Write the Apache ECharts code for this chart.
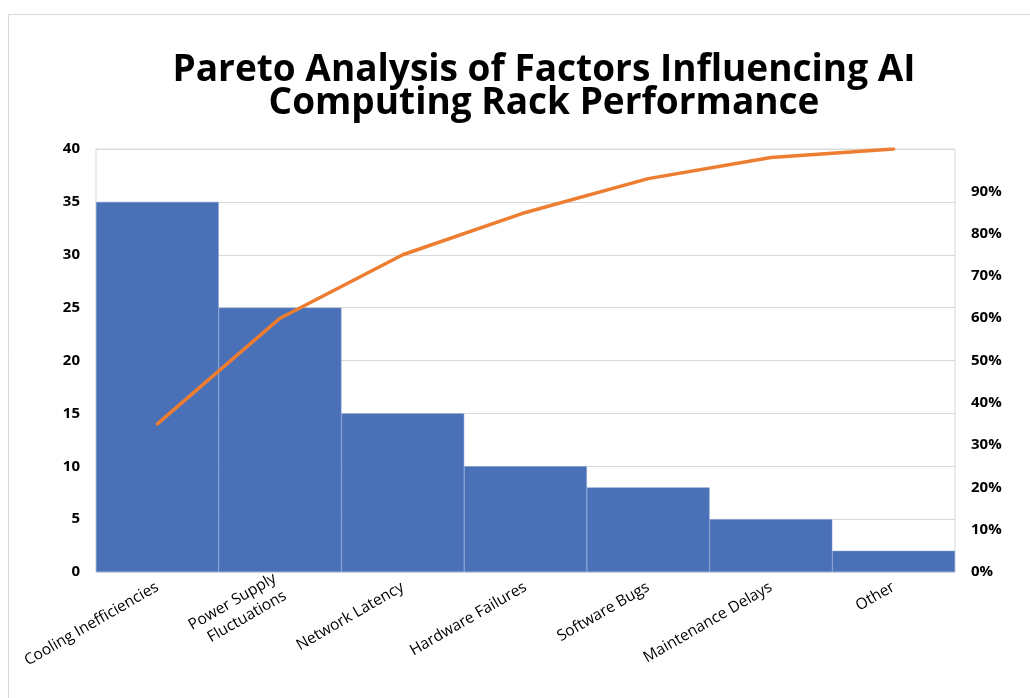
<!DOCTYPE html>
<html>
<head>
<meta charset="utf-8">
<script src="https://cdn.jsdelivr.net/npm/echarts@6/dist/echarts.min.js"></script>
<style>
html,body{margin:0;padding:0;background:#fff;}
#c{width:1030px;height:698px;}
</style>
</head>
<body>
<div id="c"></div>
<script>
const categories = ['Cooling Inefficiencies', 'Power Supply\nFluctuations', 'Network Latency', 'Hardware Failures', 'Software Bugs', 'Maintenance Delays', 'Other'];
const counts = [35, 25, 15, 10, 8, 5, 2];
const cumulativePct = [35, 60, 75, 85, 93, 98, 100];
const leftTicks = {min: 0, max: 40, interval: 5};
const rightTicks = {min: 0, max: 100, interval: 10};

const chart = echarts.init(document.getElementById('c'));
chart.setOption({
  backgroundColor: '#fff',
  animation: false,
  graphic: [{
    type: 'rect', silent: true,
    shape: {x: 8.5, y: 14.5, width: 1040, height: 700},
    style: {fill: 'none', stroke: '#d9d9d9', lineWidth: 1}
  }],
  title: {
    text: 'Pareto Analysis of Factors Influencing AI\nComputing Rack Performance',
    left: 539, textAlign: 'center', top: 49,
    textStyle: {fontFamily: 'Open Sans', fontWeight: 'bold', fontSize: 37, color: '#000', lineHeight: 33}
  },
  grid: {left: 96, right: 75, top: 149, bottom: 126, show: true, borderColor: '#d9d9d9', borderWidth: 1},
  xAxis: {
    type: 'category', data: categories,
    axisLine: {show: false}, axisTick: {show: false},
    axisLabel: {rotate: 30, interval: 0, fontFamily: 'Open Sans', fontSize: 15.5, color: '#000', margin: 14, lineHeight: 20, align: 'right'}
  },
  yAxis: [{
    type: 'value', min: leftTicks.min, max: leftTicks.max, interval: leftTicks.interval,
    axisLine: {show: false}, axisTick: {show: false},
    axisLabel: {fontFamily: 'Open Sans', fontWeight: 'bold', fontSize: 15, color: '#000', margin: 16},
    splitLine: {lineStyle: {color: '#d9d9d9', width: 1}}
  }, {
    type: 'value', min: rightTicks.min, max: rightTicks.max, interval: rightTicks.interval,
    axisLine: {show: false}, axisTick: {show: false}, splitLine: {show: false},
    axisLabel: {fontFamily: 'Open Sans', fontWeight: 'bold', fontSize: 15, color: '#000', margin: 16,
      formatter: v => v >= 100 ? '' : v + '%'}
  }],
  series: [{
    type: 'bar', data: counts, barCategoryGap: '0%', yAxisIndex: 0,
    itemStyle: {color: '#4a70b7', borderColor: '#7f9bd0', borderWidth: 0.5}
  }, {
    type: 'line', data: cumulativePct, yAxisIndex: 1, showSymbol: false, symbol: 'none',
    lineStyle: {color: '#ED7D31', width: 3.5, cap: 'round'}
  }]
});
</script>
</body>
</html>
